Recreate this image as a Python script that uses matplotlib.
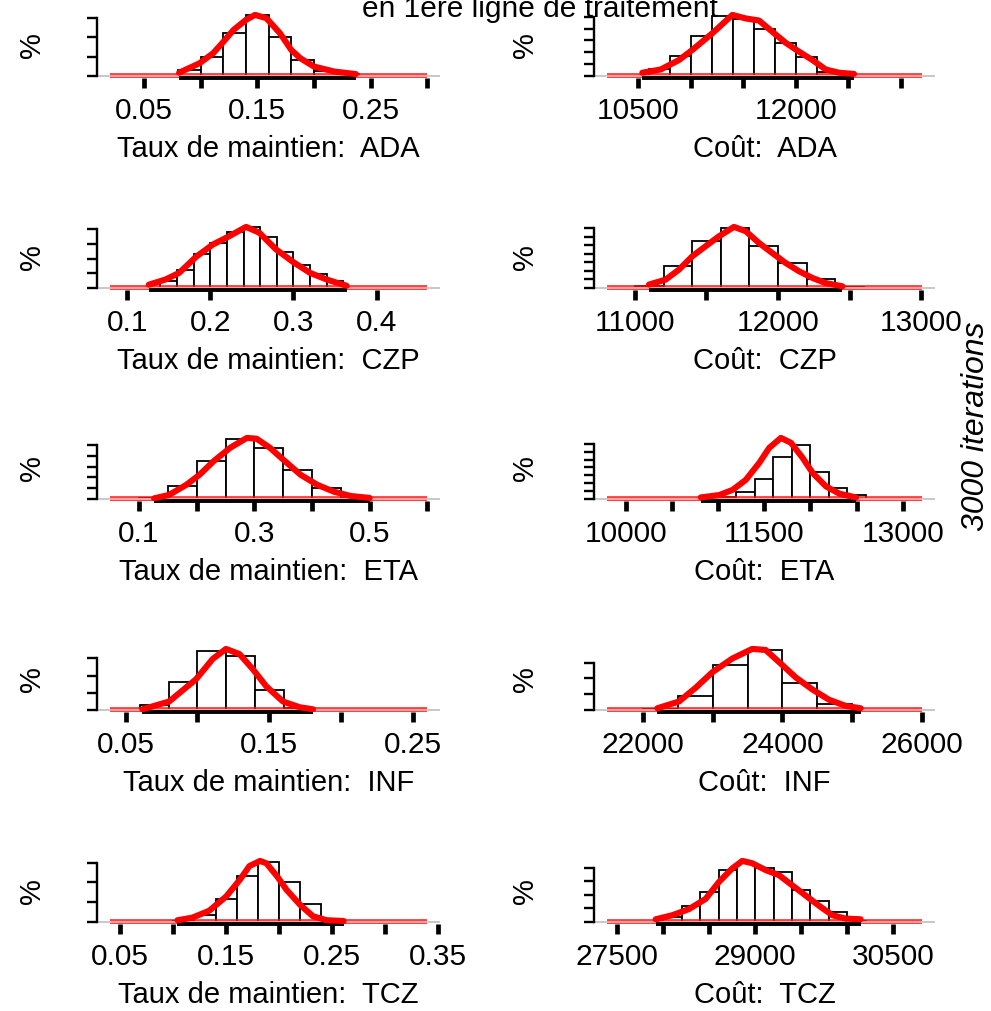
import numpy as np
import matplotlib.pyplot as plt

plt.rcParams['font.family'] = ['Liberation Sans', 'DejaVu Sans']
plt.rcParams['font.size'] = 21

# ---- Taux de maintien: ADA
taux_ada_edges = [0.08, 0.10, 0.12, 0.14, 0.16, 0.18, 0.20, 0.22, 0.24]
taux_ada_pct = [3.0, 9.7, 22.2, 31.4, 20.0, 8.3, 2.5, 0.9]
taux_ada_kx = [0.081, 0.099, 0.111, 0.119, 0.129, 0.140, 0.148, 0.158, 0.170, 0.180, 0.188, 0.200, 0.218, 0.237]
taux_ada_ky = [1.7, 6.6, 11.8, 17.0, 23.9, 29.1, 31.7, 30.0, 22.2, 13.5, 9.2, 4.9, 2.3, 1.0]
taux_ada_span = [0.0198, 0.300]
taux_ada_obs = [0.081, 0.237]
taux_ada_xticks = [0.05, 0.10, 0.15, 0.20, 0.25, 0.30]
taux_ada_xlabels = ['0.05', '', '0.15', '', '0.25', '']
taux_ada_ystep = 10

# ---- Coût: ADA
cout_ada_edges = [10600, 10800, 11000, 11200, 11400, 11600, 11800, 12000, 12200, 12400]
cout_ada_pct = [2.4, 6.7, 13.6, 20.3, 19.3, 15.7, 11.2, 6.3, 1.5]
cout_ada_kx = [10538, 10713, 10888, 11015, 11205, 11396, 11523, 11650, 11777, 11904, 12031, 12158, 12285, 12412, 12555]
cout_ada_ky = [1.1, 2.2, 5.4, 8.8, 14.4, 20.6, 19.4, 18.7, 14.9, 11.2, 8.2, 5.4, 2.2, 1.1, 0.7]
cout_ada_span = [10198, 13206]
cout_ada_obs = [10538, 12555]
cout_ada_xticks = [10500, 11000, 11500, 12000, 12500, 13000]
cout_ada_xlabels = ['10500', '', '', '12000', '', '']
cout_ada_ystep = 4

# ---- Taux de maintien: CZP
taux_czp_edges = [0.14, 0.16, 0.18, 0.20, 0.22, 0.24, 0.26, 0.28, 0.30, 0.32, 0.34, 0.36]
taux_czp_pct = [1.8, 5.0, 9.1, 12.3, 15.2, 16.5, 13.9, 9.7, 6.2, 3.9, 2.0]
taux_czp_kx = [0.126, 0.146, 0.1625, 0.183, 0.203, 0.223, 0.243, 0.259, 0.279, 0.300, 0.320, 0.340, 0.364]
taux_czp_ky = [0.9, 2.3, 4.1, 8.5, 11.8, 14.1, 16.6, 15.0, 10.5, 7.0, 4.1, 2.3, 0.6]
taux_czp_span = [0.079, 0.461]
taux_czp_obs = [0.126, 0.364]
taux_czp_xticks = [0.1, 0.2, 0.3, 0.4]
taux_czp_xlabels = ['0.1', '0.2', '0.3', '0.4']
taux_czp_ystep = 4

# ---- Coût: CZP
cout_czp_edges = [11000, 11200, 11400, 11600, 11800, 12000, 12200, 12400, 12600]
cout_czp_pct = [1.1, 10.4, 21.8, 28.0, 19.8, 11.7, 4.2, 0.5]
cout_czp_kx = [11098, 11214, 11308, 11401, 11494, 11587, 11692, 11774, 11867, 11960, 12053, 12147, 12240, 12333, 12450]
cout_czp_ky = [1.6, 3.9, 8.6, 14.8, 19.5, 24.1, 28.5, 26.5, 21.0, 16.3, 11.7, 7.8, 4.7, 2.3, 0.8]
cout_czp_span = [10802, 13009]
cout_czp_obs = [11098, 12450]
cout_czp_xticks = [11000, 11500, 12000, 12500, 13000]
cout_czp_xlabels = ['11000', '', '12000', '', '13000']
cout_czp_ystep = 4

# ---- Taux de maintien: ETA
taux_eta_edges = [0.10, 0.15, 0.20, 0.25, 0.30, 0.35, 0.40, 0.45, 0.50]
taux_eta_pct = [0.6, 6.1, 17.5, 27.7, 23.8, 13.3, 5.0, 1.1]
taux_eta_kx = [0.126, 0.152, 0.182, 0.205, 0.229, 0.258, 0.287, 0.304, 0.327, 0.350, 0.380, 0.409, 0.438, 0.467, 0.500]
taux_eta_ky = [0.3, 1.9, 6.6, 11.3, 17.5, 23.8, 28.4, 28.0, 23.8, 18.3, 11.3, 6.6, 3.4, 1.4, 0.5]
taux_eta_span = [0.049, 0.600]
taux_eta_obs = [0.126, 0.500]
taux_eta_xticks = [0.1, 0.2, 0.3, 0.4, 0.5, 0.6]
taux_eta_xlabels = ['0.1', '', '0.3', '', '0.5', '']
taux_eta_ystep = 5

# ---- Coût: ETA
cout_eta_edges = [11000, 11200, 11400, 11600, 11800, 12000, 12200, 12400, 12600]
cout_eta_pct = [0.8, 3.7, 10.0, 21.5, 27.5, 13.9, 5.4, 2.0]
cout_eta_kx = [10813, 11012, 11157, 11301, 11446, 11554, 11681, 11790, 11916, 12025, 12169, 12314, 12495]
cout_eta_ky = [0.8, 2.0, 4.6, 9.7, 18.3, 25.9, 31.0, 28.5, 20.9, 13.2, 6.4, 2.7, 0.8]
cout_eta_span = [9794, 13213]
cout_eta_obs = [10813, 12495]
cout_eta_xticks = [10000, 10500, 11000, 11500, 12000, 12500, 13000]
cout_eta_xlabels = ['10000', '', '', '11500', '', '', '13000']
cout_eta_ystep = 4

# ---- Taux de maintien: INF
taux_inf_edges = [0.06, 0.08, 0.10, 0.12, 0.14, 0.16, 0.18]
taux_inf_pct = [3.0, 16.2, 34.5, 31.2, 11.8, 1.0]
taux_inf_kx = [0.0617, 0.0803, 0.0990, 0.1106, 0.1199, 0.1293, 0.1386, 0.1479, 0.1596, 0.1712, 0.1805]
taux_inf_ky = [0.4, 4.9, 17.8, 29.6, 35.5, 32.5, 23.7, 13.8, 4.9, 1.6, 0.4]
taux_inf_span = [0.039, 0.260]
taux_inf_obs = [0.0617, 0.1805]
taux_inf_xticks = [0.05, 0.10, 0.15, 0.20, 0.25]
taux_inf_xlabels = ['0.05', '', '0.15', '', '0.25']
taux_inf_ystep = 10

# ---- Coût: INF
cout_inf_edges = [22000, 22500, 23000, 23500, 24000, 24500, 25000]
cout_inf_pct = [0.4, 8.7, 28.7, 38.0, 17.4, 3.9]
cout_inf_kx = [22206, 22517, 22756, 22995, 23282, 23569, 23761, 23952, 24191, 24431, 24670, 24909, 25124]
cout_inf_ky = [1.1, 5.4, 14.1, 23.9, 32.6, 38.7, 38.0, 30.4, 20.7, 13.0, 6.5, 2.6, 1.1]
cout_inf_span = [21478, 26010]
cout_inf_obs = [22206, 25124]
cout_inf_xticks = [22000, 23000, 24000, 25000, 26000]
cout_inf_xlabels = ['22000', '', '24000', '', '26000']
cout_inf_ystep = 10

# ---- Taux de maintien: TCZ
taux_tcz_edges = [0.10, 0.12, 0.14, 0.16, 0.18, 0.20, 0.22, 0.24, 0.26]
taux_tcz_pct = [0.3, 3.4, 11.5, 23.5, 30.4, 20.1, 9.1, 0.9]
taux_tcz_kx = [0.104, 0.118, 0.134, 0.150, 0.163, 0.172, 0.182, 0.188, 0.198, 0.207, 0.220, 0.232, 0.245, 0.261]
taux_tcz_ky = [0.9, 2.2, 5.7, 12.9, 21.4, 28.3, 30.9, 29.7, 23.2, 16.3, 8.6, 2.9, 0.9, 0.5]
taux_tcz_span = [0.040, 0.340]
taux_tcz_obs = [0.104, 0.261]
taux_tcz_xticks = [0.05, 0.10, 0.15, 0.20, 0.25, 0.30, 0.35]
taux_tcz_xlabels = ['0.05', '', '0.15', '', '0.25', '', '0.35']
taux_tcz_ystep = 10

# ---- Coût: TCZ
cout_tcz_edges = [28000, 28200, 28400, 28600, 28800, 29000, 29200, 29400, 29600, 29800, 30000, 30200]
cout_tcz_pct = [1.5, 4.8, 8.8, 15.3, 17.5, 16.0, 14.6, 9.3, 6.1, 2.8, 0.3]
cout_tcz_kx = [27917, 28098, 28279, 28460, 28605, 28750, 28859, 28967, 29112, 29257, 29402, 29547, 29692, 29837, 29982, 30145]
cout_tcz_ky = [0.8, 2.0, 3.8, 6.8, 11.8, 15.8, 18.0, 17.3, 15.3, 13.8, 10.8, 7.8, 4.8, 2.0, 1.0, 0.8]
cout_tcz_span = [27384, 30816]
cout_tcz_obs = [27917, 30145]
cout_tcz_xticks = [27500, 28000, 28500, 29000, 29500, 30000, 30500]
cout_tcz_xlabels = ['27500', '', '', '29000', '', '', '30500']
cout_tcz_ystep = 4

panels = [
    ('Taux de maintien:  ADA', taux_ada_edges, taux_ada_pct, taux_ada_kx, taux_ada_ky, taux_ada_span, taux_ada_obs, taux_ada_xticks, taux_ada_xlabels, taux_ada_ystep),
    ('Coût:  ADA', cout_ada_edges, cout_ada_pct, cout_ada_kx, cout_ada_ky, cout_ada_span, cout_ada_obs, cout_ada_xticks, cout_ada_xlabels, cout_ada_ystep),
    ('Taux de maintien:  CZP', taux_czp_edges, taux_czp_pct, taux_czp_kx, taux_czp_ky, taux_czp_span, taux_czp_obs, taux_czp_xticks, taux_czp_xlabels, taux_czp_ystep),
    ('Coût:  CZP', cout_czp_edges, cout_czp_pct, cout_czp_kx, cout_czp_ky, cout_czp_span, cout_czp_obs, cout_czp_xticks, cout_czp_xlabels, cout_czp_ystep),
    ('Taux de maintien:  ETA', taux_eta_edges, taux_eta_pct, taux_eta_kx, taux_eta_ky, taux_eta_span, taux_eta_obs, taux_eta_xticks, taux_eta_xlabels, taux_eta_ystep),
    ('Coût:  ETA', cout_eta_edges, cout_eta_pct, cout_eta_kx, cout_eta_ky, cout_eta_span, cout_eta_obs, cout_eta_xticks, cout_eta_xlabels, cout_eta_ystep),
    ('Taux de maintien:  INF', taux_inf_edges, taux_inf_pct, taux_inf_kx, taux_inf_ky, taux_inf_span, taux_inf_obs, taux_inf_xticks, taux_inf_xlabels, taux_inf_ystep),
    ('Coût:  INF', cout_inf_edges, cout_inf_pct, cout_inf_kx, cout_inf_ky, cout_inf_span, cout_inf_obs, cout_inf_xticks, cout_inf_xlabels, cout_inf_ystep),
    ('Taux de maintien:  TCZ', taux_tcz_edges, taux_tcz_pct, taux_tcz_kx, taux_tcz_ky, taux_tcz_span, taux_tcz_obs, taux_tcz_xticks, taux_tcz_xlabels, taux_tcz_ystep),
    ('Coût:  TCZ', cout_tcz_edges, cout_tcz_pct, cout_tcz_kx, cout_tcz_ky, cout_tcz_span, cout_tcz_obs, cout_tcz_xticks, cout_tcz_xlabels, cout_tcz_ystep),
]

W, H = 991, 1011
fig = plt.figure(figsize=(W / 100, H / 100), dpi=100)

col_x = [(97, 440), (594, 935)]
row_base = [76, 288, 499, 710, 922]
plot_h = 66

for i, (label, edges, pct, kx, ky, span, obs, xt, xl, ystep) in enumerate(panels):
    r, c = divmod(i, 2)
    x0, x1 = col_x[c]
    bottom = row_base[r] + 0.04 / 1.08 * plot_h
    ax = fig.add_axes([x0 / W, 1 - bottom / H, (x1 - x0) / W, plot_h / H])

    edges = np.asarray(edges, float)
    top = max(max(pct), max(ky))

    ax.bar(edges[:-1], pct, width=np.diff(edges), align='edge',
           facecolor='white', edgecolor='black', linewidth=1.3, zorder=1)
    ax.axhline(0, color='#c8c8c8', lw=1.4, zorder=2)
    # density line over the full range, drawn light
    ax.plot(span, [0, 0], color='#ff1010', lw=4.2, alpha=0.8,
            solid_capstyle='butt', zorder=3)
    ax.plot(span, [0, 0], color='#ffc4c4', lw=1.1, zorder=3)
    # rug of simulated values
    ax.plot(obs, [-0.03 * top] * 2, color='black', lw=2.8,
            solid_capstyle='butt', clip_on=False, zorder=3)
    ax.plot(kx, ky, color='red', lw=4.4, solid_capstyle='round',
            solid_joinstyle='round', zorder=4)

    pad = 0.04 * (span[1] - span[0])
    ax.set_xlim(span[0] - pad, span[1] + pad)
    ax.set_ylim(-0.04 * top, 1.04 * top)

    yt = np.arange(0, top + 1e-9, ystep)
    ax.set_yticks(yt)
    ax.set_yticklabels([])
    ax.set_xticks(xt)
    ax.set_xticklabels(xl)

    for s in ('top', 'right', 'bottom'):
        ax.spines[s].set_visible(False)
    ax.spines['left'].set_bounds(0, yt[-1])
    ax.spines['left'].set_linewidth(1.7)
    ax.tick_params(axis='y', direction='out', length=7, width=1.7)
    ax.tick_params(axis='x', direction='out', length=7, width=3.4, pad=6.5,
                   labelsize=21.5)
    ax.set_xlabel(label, fontsize=21, labelpad=7)
    ax.patch.set_alpha(0)

    yc = 1 - (bottom - plot_h / 2) / H
    fig.text((32 if c == 0 else 525) / W, yc, '%', rotation=90,
             ha='center', va='center', fontsize=21)

fig.text(540 / W, 1 - 17 / H, 'en 1ère ligne de traitement', ha='center',
         va='baseline', fontsize=21.5)
fig.text(976 / W, 1 - 426 / H, '3000 iterations', rotation=90, style='italic',
         ha='center', va='center', fontsize=23)

fig.savefig('out.png', dpi=100)
